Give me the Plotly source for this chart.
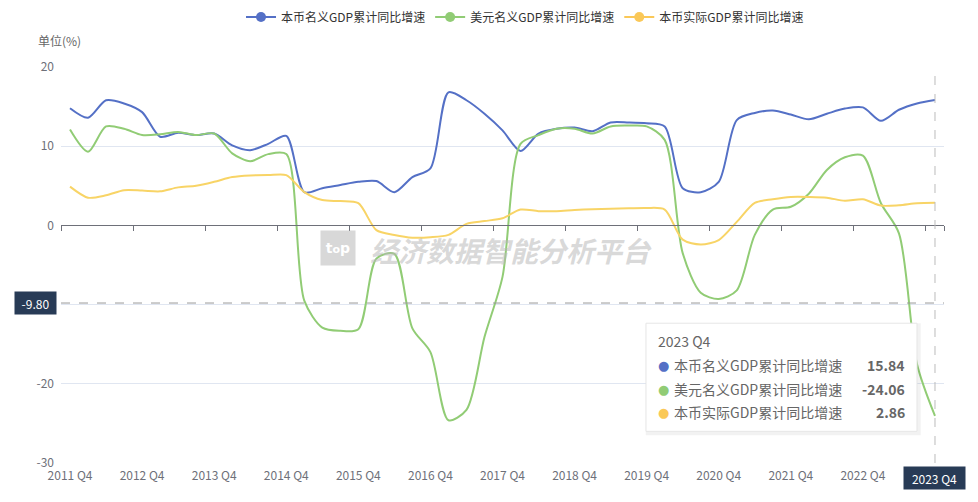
import plotly.graph_objects as go

# quarters 2011 Q4 .. 2023 Q4
quarters = [f"{y} Q{q}" for y in range(2011, 2024) for q in (1, 2, 3, 4)][3:]

nominal_local = [14.8, 13.6, 15.8, 15.4, 14.3, 11.2, 11.7, 11.4, 11.6, 10.1, 9.5, 10.3, 11.3,
                 4.2, 4.7, 5.1, 5.5, 5.6, 4.2, 6.1, 7.2, 16.8, 15.8, 14.1, 12.0, 9.4, 11.6,
                 12.2, 12.35, 11.9, 13.0, 13.0, 12.9, 12.5, 4.7, 4.2, 5.5, 13.3, 14.2, 14.5,
                 14.0, 13.4, 14.1, 14.75, 14.9, 13.2, 14.6, 15.4, 15.84]
nominal_usd = [12.1, 9.3, 12.5, 12.2, 11.4, 11.5, 11.8, 11.4, 11.6, 9.1, 8.1, 9.0, 9.0,
               -9.5, -12.9, -13.3, -13.1, -4.2, -3.6, -13.0, -16.0, -24.6, -23.3, -14.1, -6.5,
               10.3, 11.4, 12.2, 12.2, 11.6, 12.5, 12.6, 12.5, 10.8, -3.5, -8.5, -9.3, -8.2,
               -1.2, 2.0, 2.35, 4.0, 7.0, 8.6, 8.8, 2.8, -1.0, -17.5, -24.06]
real_local = [4.9, 3.5, 3.8, 4.45, 4.4, 4.3, 4.8, 5.0, 5.5, 6.1, 6.3, 6.35, 6.35,
              4.2, 3.2, 3.07, 2.8, -0.6, -1.2, -1.55, -1.5, -1.2, 0.2, 0.55, 0.9,
              2.0, 1.8, 1.8, 1.95, 2.05, 2.1, 2.15, 2.2, 2.0, -1.8, -2.4, -1.85, 0.45,
              2.85, 3.3, 3.6, 3.6, 3.5, 3.1, 3.3, 2.5, 2.55, 2.8, 2.86]

names = ["本币名义GDP累计同比增速", "美元名义GDP累计同比增速", "本币实际GDP累计同比增速"]
colors = ["#5470C6", "#91CC75", "#F8D466"]
dot_colors = ["#5470C6", "#91CC75", "#FAC858"]
series = [nominal_local, nominal_usd, real_local]
y_ticks = [-30, -20, -10, 0, 10, 20]
pointer_y = -9.80

FONT = "Noto Sans CJK SC"
GREY = "#6E7079"
idx = list(range(len(quarters)))
last = len(quarters) - 1

fig = go.Figure()
for name, col, vals in zip(names, colors, series):
    fig.add_trace(go.Scatter(
        x=idx, y=vals, name=name, mode="lines", showlegend=False, hoverinfo="skip",
        line=dict(color=col, width=2, shape="spline", smoothing=0.8),
    ))
# legend entries: line with a dot, as in the original legend icons
for name, col in zip(names, dot_colors):
    fig.add_trace(go.Scatter(x=[None], y=[None], name=name, mode="lines+markers",
                             line=dict(color=col, width=2), marker=dict(size=10, color=col)))
# carrier trace for the axis-line/tick overlay at y = 0
fig.add_trace(go.Scatter(x=idx, y=nominal_local, xaxis="x2", mode="lines",
                         line=dict(width=0), opacity=0, showlegend=False, hoverinfo="skip"))

# crosshair
fig.add_shape(type="line", xref="paper", x0=0, x1=1, y0=pointer_y, y1=pointer_y,
              line=dict(color="#999", width=1, dash="dash"))
fig.add_shape(type="line", x0=last, x1=last, yref="paper", y0=0, y1=1,
              line=dict(color="#bbb", width=1, dash="dash"))
fig.add_annotation(xref="paper", x=0, y=pointer_y, xanchor="right", yanchor="middle", xshift=-4,
                   text=f"{pointer_y:.2f}", showarrow=False, bgcolor="#283B56",
                   width=41, height=22, borderpad=0,
                   font=dict(color="white", size=12, family=FONT))
fig.add_annotation(x=last, yref="paper", y=0, yanchor="top", yshift=-3,
                   text=quarters[last], showarrow=False, bgcolor="#283B56",
                   width=61, height=22, borderpad=0,
                   font=dict(color="white", size=12, family=FONT))

# watermark
fig.add_annotation(xref="paper", yref="paper", x=0.3137, y=0.543, xanchor="center", yanchor="middle",
                   text="<b>t<span style='font-size:11px'>o</span>p</b>",
                   showarrow=False, bgcolor="rgba(190,190,190,0.6)", width=34, height=34,
                   borderpad=0, font=dict(color="white", size=14, family="DejaVu Sans"))
fig.add_annotation(xref="paper", yref="paper", x=0.5096, y=0.537, xanchor="center", yanchor="middle",
                   text="<b><i>经济数据智能分析平台</i></b>",
                   showarrow=False, font=dict(color="rgba(185,185,185,0.55)", size=28, family=FONT))

# tooltip box
fig.add_shape(type="rect", xref="paper", yref="paper", x0=0.6645, x1=0.9714, y0=0.075, y1=0.348,
              line=dict(color="rgba(0,0,0,0.05)", width=4), fillcolor="rgba(0,0,0,0)")
fig.add_shape(type="rect", xref="paper", yref="paper", x0=0.6625, x1=0.9694, y0=0.080, y1=0.353,
              line=dict(color="#e6e6e6", width=1), fillcolor="white")
fig.add_annotation(xref="paper", yref="paper", x=0.6735, y=0.307, xanchor="left", yanchor="middle",
                   text=quarters[last], showarrow=False, font=dict(color="#666", size=14, family=FONT))
row_y = [0.247, 0.186, 0.128]
for name, col, vals, ry in zip(names, dot_colors, series, row_y):
    fig.add_annotation(xref="paper", yref="paper", x=0.6735, y=ry, xanchor="left", yanchor="middle",
                       text="●", showarrow=False,
                       font=dict(color=col, size=13, family="DejaVu Sans"))
    fig.add_annotation(xref="paper", yref="paper", x=0.6925, y=ry, xanchor="left", yanchor="middle",
                       text=name, showarrow=False, font=dict(color="#666", size=14, family=FONT))
    fig.add_annotation(xref="paper", yref="paper", x=0.958, y=ry, xanchor="right", yanchor="middle",
                       text=f"<b>{vals[-1]:.2f}</b>", showarrow=False,
                       font=dict(color="#666", size=14, family=FONT))

fig.add_annotation(xref="paper", yref="paper", x=-0.002, y=1.067, xanchor="center", yanchor="middle",
                   text="单位(%)", showarrow=False, font=dict(color="#666", size=12, family=FONT))

# labels hidden under the pointer boxes
x_text = [q if i != last else "" for i, q in zip(idx[::4], quarters[::4])]
y_text = [str(v) if v != -10 else "" for v in y_ticks]

boundaries = [i - 0.5 for i in idx[::4]] + [last + 0.5]
fig.update_layout(
    width=970, height=494, plot_bgcolor="white", paper_bgcolor="white",
    margin=dict(l=53, r=34, t=59, b=39, autoexpand=False),
    font=dict(family=FONT, size=12, color=GREY),
    hovermode=False,
    legend=dict(orientation="h", xref="container", yref="container",
                x=0.533, xanchor="center", y=1 - 9 / 494, yanchor="middle",
                font=dict(size=12, color="#333"), itemwidth=30),
    xaxis=dict(range=[-0.5, last + 0.5], tickvals=idx[::4], ticktext=x_text,
               showgrid=False, zeroline=False, showline=False, ticks="", automargin=False,
               tickfont=dict(size=12, color=GREY), ticklabelstandoff=4),
    xaxis2=dict(overlaying="x", anchor="free", position=0.6, range=[-0.5, last + 0.5],
                tickvals=boundaries, ticks="outside", ticklen=5, tickcolor=GREY,
                showline=True, linecolor=GREY, showgrid=False, zeroline=False,
                showticklabels=False, automargin=False),
    yaxis=dict(range=[-30, 20], tickvals=y_ticks, ticktext=y_text,
               gridcolor="#E0E6F1", zeroline=False, automargin=False,
               showline=False, tickfont=dict(size=12, color=GREY), ticklabelstandoff=6),
)

fig.write_html("out.html")
